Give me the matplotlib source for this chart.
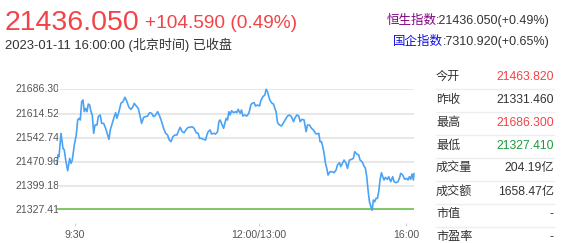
import matplotlib
matplotlib.use("Agg")
import matplotlib.pyplot as plt
from matplotlib.transforms import Bbox, TransformedBbox, blended_transform_factory

plt.rcParams['font.family'] = ['Liberation Sans', 'Noto Sans CJK SC', 'DejaVu Sans']

# ---------------- data ----------------
price = "21436.050"
change = "+104.590 (0.49%)"
timestamp = "2023-01-11 16:00:00 (北京时间) 已收盘"
hsi_name, hsi_val = "恒生指数", ":21436.050(+0.49%)"
hscei_name, hscei_val = "国企指数", ":7310.920(+0.65%)"

prev_close = 21331.46
y_levels = [21327.410, 21399.188, 21470.966, 21542.744, 21614.522, 21686.300]

x_ticks = [18, 202.3, 349.7]
x_tick_labels = ["9:30", "12:00/13:00", "16:00"]

# intraday series (position along session, index level)
t = [0, 1, 2.0, 4.0, 6.0, 7.3, 8.7, 10.7, 12.7, 14.0, 15.3, 17.3, 19.3, 20.7, 22.0, 23.3,
     24.7, 26.0, 27.3, 28.7, 30.0, 31.3, 32.7, 34.0, 35.3, 36.7, 38.0, 40.0, 41.3, 43.3,
     44.7, 46.7, 48.7, 50.7, 52.0, 53.3, 55.3, 57.3, 58.7,
     60.0, 62.0, 64.0, 66.0, 68.0, 70.0, 72.0, 74.0, 76.0, 77.3, 79.3, 81.3, 83.3, 84.7,
     86.7, 88.7, 90.7, 92.7, 94.7, 96.7, 98.7, 100.7, 102.7, 104.7, 106.7, 108.7, 110.7,
     112.0, 114.0, 116.0, 118.0,
     120.0, 122.0, 123.3, 125.3, 127.3, 129.3, 131.3, 133.3, 135.3, 137.3, 139.3, 141.3,
     142.7, 144.7, 146.7, 148.7, 150.0, 151.3, 153.3, 154.7, 156.7, 158.7, 160.7, 162.0,
     163.3, 164.7, 166.7, 168.0, 169.3, 170.7, 172.0, 173.3, 174.7, 176.7, 178.7,
     180.0, 181.3, 183.3, 184.7, 186.0, 188.0, 190.0, 192.0, 194.0, 195.3, 197.3, 198.7,
     200.7, 202.7, 204.0, 206.0, 208.0, 209.3, 210.7, 212.0, 213.3, 215.3, 216.7, 218.0,
     219.3, 220.7, 222.7, 224.7, 226.7, 228.7, 230.7, 232.7, 234.7, 236.7, 238.0,
     240.0, 242.0, 243.3, 245.3, 247.3, 249.3, 250.7, 252.7, 254.7, 256.7, 258.7, 260.0,
     262.0, 263.3, 264.7, 266.0, 267.3, 268.7, 270.0, 271.3, 273.3, 275.3, 277.3, 279.3,
     280.7, 282.7, 284.0, 286.0, 287.3, 289.3, 290.7, 292.7, 294.7, 296.7, 298.0,
     300.0, 302.0, 303.3, 305.3, 307.3, 308.7, 310.0, 311.3, 312.7, 314.0, 315.3, 316.7,
     318.0, 319.3, 320.7, 322.0, 323.3, 324.7, 326.0, 327.3, 328.7, 330.7, 332.0, 334.0,
     336.0, 337.3, 339.3, 341.3, 342.7, 344.0, 346.0, 348.0, 350.0, 351.3, 352.7, 354.0,
     355.3, 356.7, 357.3]
level = [21463.8, 21491.4, 21486.4, 21555.7, 21511.1, 21506.2, 21476.5, 21444.9, 21481.5,
         21466.7, 21476.5, 21521.0, 21550.7, 21595.2, 21600.2, 21595.2, 21649.6, 21654.6,
         21619.9, 21629.8, 21619.9, 21642.7, 21639.7, 21619.9, 21610.1, 21555.7, 21580.4,
         21580.4, 21605.1, 21610.1, 21585.3, 21585.3, 21570.5, 21550.7, 21537.9, 21565.5,
         21585.3, 21605.1, 21617.0,
         21600.2, 21619.9, 21644.7, 21649.6, 21662.5, 21649.6, 21632.8, 21626.9, 21634.8,
         21644.7, 21636.8, 21629.8, 21605.1, 21585.3, 21603.1, 21605.1, 21607.1, 21617.0,
         21615.0, 21605.1, 21610.1, 21619.9, 21607.1, 21590.3, 21570.5, 21555.7, 21550.7,
         21537.9, 21530.9, 21545.8, 21550.7,
         21550.7, 21565.5, 21573.5, 21560.6, 21557.6, 21567.5, 21573.5, 21573.5, 21575.4,
         21570.5, 21557.6, 21555.7, 21540.8, 21540.8, 21537.9, 21535.9, 21550.7, 21560.6,
         21565.5, 21553.7, 21555.7, 21553.7, 21560.6, 21590.3, 21595.2, 21585.3, 21570.5,
         21585.3, 21600.2, 21595.2, 21619.9, 21610.1, 21622.9, 21617.0, 21619.9,
         21617.0, 21626.9, 21615.0, 21624.9, 21607.1, 21610.1, 21607.1, 21615.0, 21639.7,
         21644.7, 21646.6, 21636.8, 21639.7, 21636.8, 21652.6, 21664.4, 21669.4, 21686.3,
         21679.3, 21664.4, 21652.6, 21644.7, 21642.7, 21629.8, 21619.9, 21587.3, 21580.4,
         21577.4, 21587.3, 21597.2, 21607.1, 21610.1, 21605.1, 21590.3, 21600.2,
         21610.1, 21607.1, 21590.3, 21597.2, 21595.2, 21560.6, 21580.4, 21580.4, 21570.5,
         21565.5, 21555.7, 21553.7, 21555.7, 21530.9, 21530.9, 21516.1, 21496.3, 21466.7,
         21451.8, 21432.0, 21441.9, 21441.9, 21439.0, 21446.9, 21461.7, 21468.6, 21456.8,
         21468.6, 21476.5, 21466.7, 21451.8, 21476.5, 21478.5, 21481.5, 21501.2,
         21494.3, 21491.4, 21476.5, 21471.6, 21458.7, 21451.8, 21427.1, 21387.5, 21352.9,
         21340.1, 21327.4, 21357.9, 21352.9, 21362.8, 21362.8, 21382.6, 21417.2, 21439.0,
         21427.1, 21417.2, 21425.1, 21419.2, 21427.1, 21412.3, 21427.1, 21412.3, 21409.3,
         21412.3, 21422.2, 21437.0, 21432.0, 21419.2, 21422.2, 21417.2, 21427.1, 21419.2,
         21435.0, 21417.2, 21436.05]

table_labels = ["今开", "昨收", "最高", "最低", "成交量", "成交额", "市值", "市盈率"]
table_values = ["21463.820", "21331.460", "21686.300", "21327.410", "204.19亿", "1658.47亿", "-", "-"]
table_kinds = ["up", "flat", "up", "down", "flat", "flat", "flat", "flat"]

# ---------------- style ----------------
RED = '#f24448'
GREEN = '#1c9a3c'
DARK = '#333333'
GRAY = '#555555'
kind_color = {"up": RED, "down": GREEN, "flat": DARK}

W, H = 561, 243
fig = plt.figure(figsize=(W / 100, H / 100), dpi=100)
fig.patch.set_facecolor('white')

def fx(px):
    return px / W

def fy(py):
    return 1 - py / H

# header
fig.text(fx(5), fy(29.5), price, color=RED, fontsize=20.5, va='baseline', ha='left')
fig.text(fx(145), fy(27.5), change, color=RED, fontsize=13.8, va='baseline', ha='left')
fig.text(fx(5), fy(49.5), timestamp, color=DARK, fontsize=9.4, va='baseline', ha='left')

# index lines (right aligned)
for yb, name, val, ncol in [(24, hsi_name, hsi_val, '#800080'), (44.5, hscei_name, hscei_val, '#1010e0')]:
    tv = fig.text(fx(550), fy(yb), val, color=DARK, fontsize=9, va='baseline', ha='right')
    fig.canvas.draw()
    bb = tv.get_window_extent()
    fig.text(bb.x0 / W, fy(yb), name, color=ncol, fontsize=9, va='baseline', ha='right')

# chart axes
left, right = 57, 414
top, bottom = 89.3, 210.3
ax = fig.add_axes([fx(left), fy(bottom), fx(right) - fx(left), (bottom - top) / H])
ax.set_facecolor('none')
ax.plot(t, level, color='#4aa3f5', lw=1.2, zorder=3, clip_on=False)
ax.axhline(prev_close, color='#6cbf4e', lw=1.2, zorder=2)
ax.set_xlim(0, 357.3)
ax.set_ylim(y_levels[0], y_levels[-1])
ax.set_yticks(y_levels)
ax.tick_params(axis='y', length=0, labelleft=False)
ax.grid(axis='y', color='#e6e6e6', lw=1.3, zorder=0)
for s in ax.spines.values():
    s.set_visible(False)
ax.spines['bottom'].set_position(('outward', 12.4 * 0.72))
ax.set_xticks(x_ticks)
ax.set_xticklabels(x_tick_labels)
ax.tick_params(axis='x', length=3.3 * 0.72, width=0.8, color='#d0d0d0', pad=3, labelsize=7.6, labelcolor=GRAY)

# y labels clipped at plot left edge
clip = TransformedBbox(Bbox([[0, 0], [fx(58), 1]]), fig.transFigure)
tr = blended_transform_factory(fig.transFigure, ax.transData)
for v in y_levels:
    txt = fig.text(fx(15), v, f"{v:.3f}", transform=tr, color=GRAY, fontsize=7.6, va='center', ha='left')
    txt.set_clip_box(clip)
    txt.set_clip_on(True)

# right table
row_y = [76.7, 100, 122.7, 146, 168.3, 191.7, 214.3, 236.7]
for i, (lab, val, kind) in enumerate(zip(table_labels, table_values, table_kinds)):
    fig.text(fx(436), fy(row_y[i]), lab, color=DARK, fontsize=8.7, va='center', ha='left')
    fig.text(fx(554), fy(row_y[i]), val, color=kind_color[kind], fontsize=8.7, va='center', ha='right')
    if i < len(table_labels) - 1:
        sep = (row_y[i] + row_y[i + 1]) / 2 + 1
        fig.add_artist(plt.Line2D([fx(436), fx(554)], [fy(sep), fy(sep)], color='#eeeeee', lw=1, transform=fig.transFigure))

fig.savefig('out.png', dpi=100)
